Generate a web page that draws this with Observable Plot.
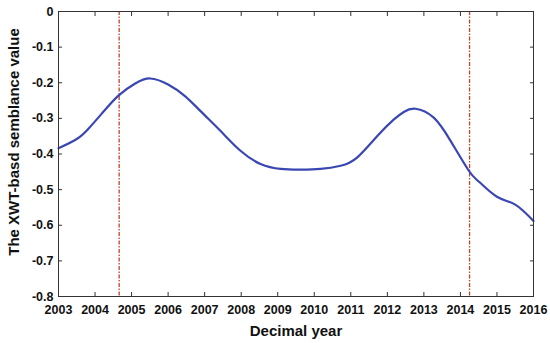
<!DOCTYPE html>
<html><head><meta charset="utf-8">
<script src="https://cdn.jsdelivr.net/npm/d3@7"></script>
<script src="https://cdn.jsdelivr.net/npm/@observablehq/plot@0.6"></script>
<style>
body{margin:0;background:#fff;}
svg{font-family:"Liberation Sans",Arial,sans-serif;}
</style></head>
<body><div id="chart"></div>
<script>
const years = [2003.0,2003.5,2003.82,2004.19,2004.64,2005.1,2005.51,2006.0,2006.47,2006.88,2007.43,2007.98,2008.53,2009.08,2009.63,2010.17,2010.72,2011.17,2011.72,2012.18,2012.45,2012.77,2013.27,2013.73,2014.23,2014.51,2015.0,2015.5,2016.0];
const values = [-0.384,-0.358,-0.329,-0.286,-0.236,-0.202,-0.188,-0.205,-0.238,-0.279,-0.335,-0.391,-0.428,-0.442,-0.444,-0.442,-0.433,-0.410,-0.350,-0.303,-0.282,-0.273,-0.298,-0.363,-0.447,-0.478,-0.520,-0.542,-0.588];
const eventYears = [2004.66, 2014.25];
const xTicks = d3.range(2003, 2017);
const yTicks = [0,-0.1,-0.2,-0.3,-0.4,-0.5,-0.6,-0.7,-0.8];

const data = years.map((x,i)=>({x, y: values[i]}));
const fmtY = d => d === 0 ? "0" : d.toFixed(1);
const blank = () => "";

const chart = Plot.plot({
  width: 550, height: 343,
  marginLeft: 58, marginRight: 17, marginTop: 11, marginBottom: 47,
  x: {domain: [2003, 2016]},
  y: {domain: [-0.8, 0]},
  style: {fontFamily: "'Liberation Sans', Arial, sans-serif", background: "#fff"},
  marks: [
    Plot.ruleX(eventYears, {stroke: "#c0452a", strokeWidth: 1.3, strokeDasharray: "4,1.5,1.5,1.5"}),
    Plot.line(data, {x: "x", y: "y", stroke: "#3a47b3", strokeWidth: 2.2, curve: "natural"}),
    Plot.frame({stroke: "#333", strokeWidth: 1}),
    Plot.axisX(xTicks, {anchor: "bottom", tickSize: -4, tickPadding: 13, tickFormat: d => String(d), fontSize: 12.5, fontWeight: "bold", fill: "#111", stroke: "#333", label: null}),
    Plot.axisX(xTicks, {anchor: "top", tickSize: -4, tickFormat: blank, label: null, stroke: "#333"}),
    Plot.axisY(yTicks, {anchor: "left", tickSize: -4, tickPadding: 9, tickFormat: fmtY, fontSize: 12.5, fontWeight: "bold", fill: "#111", stroke: "#333", label: null}),
    Plot.axisY(yTicks, {anchor: "right", tickSize: -4, tickFormat: blank, label: null, stroke: "#333"}),
    Plot.text(["Decimal year"], {frameAnchor: "bottom", dy: 39, fontSize: 15, fontWeight: "bold", fill: "#111"}),
    Plot.text(["The XWT-basd semblance value"], {frameAnchor: "left", textAnchor: "middle", dx: -44, dy: -12, rotate: -90, fontSize: 15, fontWeight: "bold", fill: "#111"})
  ]
});
document.getElementById("chart").appendChild(chart);
</script>
</body></html>
